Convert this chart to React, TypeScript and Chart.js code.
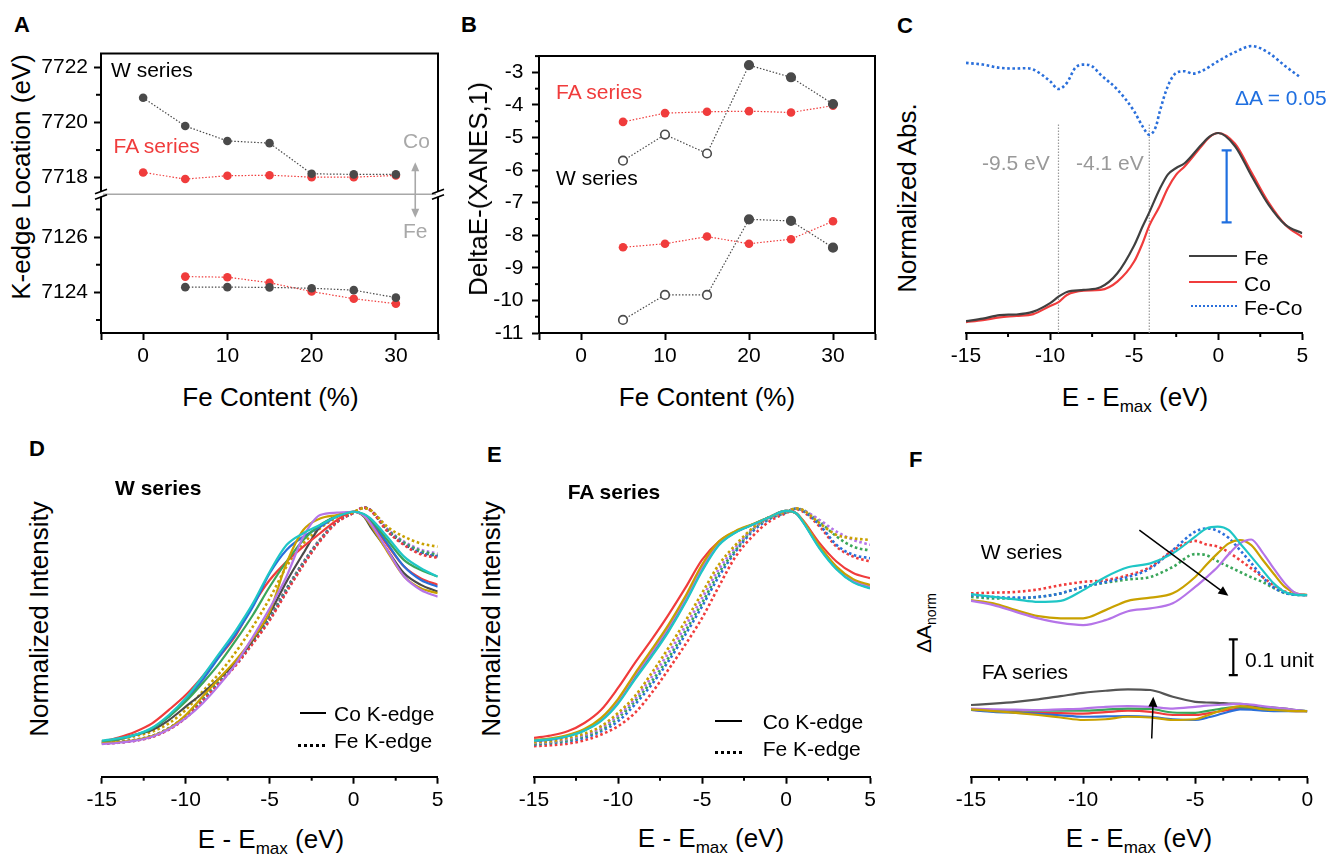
import React, { useEffect, useRef } from 'react';
import { Chart, registerables } from 'chart.js';
Chart.register(...registerables);

const FONT = "'Liberation Sans', Arial, Helvetica, sans-serif";
Chart.defaults.font.family = FONT;

// ---------- colours ----------
const K_GRAY = '#4a4a4a';
const K_RED = '#f03c3c';
const K_BLUE = '#2a6fdb';
const K_GREEN = '#3aa65a';
const K_PURPLE = '#b574e8';
const K_GOLD = '#c9a100';
const K_CYAN = '#1fc6c6';

// ---------- Panel A data (K-edge location, eV) ----------
const FE_CONTENT = [0, 5, 10, 15, 20, 25, 30];
const FE_CONTENT_DOPED = [5, 10, 15, 20, 25, 30];
const A_W_CO = [7720.89, 7719.87, 7719.33, 7719.25, 7718.14, 7718.12, 7718.12];
const A_FA_CO = [7718.19, 7717.95, 7718.07, 7718.09, 7718.02, 7718.02, 7718.08];
const A_W_FE = [7124.19, 7124.19, 7124.18, 7124.15, 7124.08, 7123.81];
const A_FA_FE = [7124.57, 7124.55, 7124.35, 7124.03, 7123.77, 7123.59];

// ---------- Panel B data (DeltaE-(XANES,1)) ----------
const B_W_UPPER = [-5.71, -4.91, -5.49, -2.78, -3.15, -3.97];
const B_FA_UPPER = [-4.52, -4.25, -4.21, -4.19, -4.23, -4.02];
const B_W_LOWER = [-10.6, -9.83, -9.83, -7.51, -7.56, -8.38];
const B_FA_LOWER = [-8.37, -8.26, -8.04, -8.26, -8.12, -7.57];
const B_W_OPEN = [true, true, true, false, false, false];

// ---------- Panel C data ----------
const C_E = [-15, -14, -13, -12, -11, -10, -9.5, -9, -8, -7, -6, -5, -4.5, -4.1, -3.5, -3, -2.5, -2, -1, -0.5, 0, 1, 2, 3, 4, 5];
const C_FE = [0.005, 0.018, 0.037, 0.04, 0.055, 0.1, 0.134, 0.159, 0.17, 0.184, 0.258, 0.405, 0.505, 0.58, 0.7, 0.78, 0.815, 0.84, 0.938, 0.982, 1.0, 0.93, 0.77, 0.62, 0.514, 0.47];
const C_CO = [0.0, 0.01, 0.025, 0.032, 0.042, 0.085, 0.105, 0.143, 0.166, 0.17, 0.214, 0.32, 0.417, 0.51, 0.61, 0.708, 0.78, 0.823, 0.93, 0.98, 1.0, 0.943, 0.788, 0.632, 0.514, 0.449];
const C_DIFF_E = [-15, -14, -13, -12, -11.5, -11, -10, -9.5, -9, -8.5, -8, -7.5, -7, -6, -5, -4.5, -4.1, -3.7, -3.5, -3, -2.5, -2, -1.5, -1, 0, 1, 2, 3, 4, 4.8];
const C_DIFF = [1.371, 1.362, 1.345, 1.341, 1.343, 1.336, 1.274, 1.233, 1.265, 1.345, 1.362, 1.353, 1.309, 1.23, 1.115, 1.035, 0.991, 1.035, 1.106, 1.247, 1.318, 1.327, 1.314, 1.327, 1.38, 1.428, 1.46, 1.424, 1.353, 1.3];
const C_MARK_E = [-9.5, -4.1];
const C_MARK_TOP = 1.05;
const C_ERRBAR = { x: 0.5, low: 0.527, high: 0.908 };

// ---------- Panels D / E data ----------
const DE_E = [-15, -14, -13, -12, -11, -10, -9, -8, -7, -6, -5, -4, -3, -2, -1, 0, 0.6, 1, 2, 3, 4, 5];
// D (W series) Co K-edge
const D_CO_RED = [0.006, 0.024, 0.049, 0.085, 0.143, 0.207, 0.287, 0.373, 0.467, 0.596, 0.704, 0.783, 0.848, 0.906, 0.963, 0.999, 0.985, 0.956, 0.855, 0.762, 0.711, 0.683];
const D_CO_BLUE = [0.006, 0.017, 0.035, 0.063, 0.114, 0.186, 0.272, 0.373, 0.474, 0.589, 0.733, 0.834, 0.891, 0.934, 0.978, 0.999, 0.985, 0.963, 0.862, 0.762, 0.704, 0.675];
const D_CO_CYAN = [0.01, 0.02, 0.035, 0.066, 0.121, 0.193, 0.287, 0.387, 0.488, 0.603, 0.74, 0.855, 0.906, 0.942, 0.978, 0.999, 0.989, 0.97, 0.891, 0.805, 0.755, 0.719];
const D_CO_GREEN = [0.006, 0.017, 0.035, 0.063, 0.114, 0.179, 0.258, 0.344, 0.445, 0.553, 0.675, 0.783, 0.877, 0.942, 0.978, 0.999, 0.988, 0.966, 0.877, 0.79, 0.747, 0.719];
const D_CO_GRAY = [0.006, 0.017, 0.035, 0.056, 0.099, 0.157, 0.215, 0.279, 0.351, 0.445, 0.56, 0.697, 0.819, 0.934, 0.981, 0.999, 0.978, 0.934, 0.834, 0.733, 0.683, 0.654];
const D_CO_GOLD = [0.0, 0.004, 0.013, 0.03, 0.063, 0.121, 0.2, 0.279, 0.359, 0.452, 0.567, 0.776, 0.92, 0.97, 0.985, 0.999, 0.981, 0.942, 0.827, 0.719, 0.668, 0.647];
const D_CO_PURPLE = [-0.004, 0.001, 0.01, 0.027, 0.059, 0.107, 0.171, 0.251, 0.344, 0.459, 0.582, 0.719, 0.891, 0.985, 0.995, 0.999, 0.982, 0.949, 0.834, 0.719, 0.661, 0.632];
// D (W series) Fe K-edge
const D_FE_RED = [-0.003, 0.002, 0.01, 0.026, 0.058, 0.108, 0.18, 0.258, 0.337, 0.43, 0.53, 0.652, 0.768, 0.872, 0.953, 0.994, 1.017, 1.005, 0.915, 0.855, 0.815, 0.8];
const D_FE_BLUE = [-0.002, 0.003, 0.011, 0.028, 0.06, 0.11, 0.182, 0.26, 0.34, 0.433, 0.534, 0.655, 0.771, 0.874, 0.954, 0.994, 1.017, 1.006, 0.918, 0.858, 0.82, 0.805];
const D_FE_GREEN = [-0.001, 0.004, 0.013, 0.03, 0.063, 0.114, 0.186, 0.265, 0.344, 0.438, 0.539, 0.661, 0.776, 0.877, 0.956, 0.995, 1.016, 1.006, 0.922, 0.866, 0.83, 0.812];
const D_FE_PURPLE = [-0.004, 0.001, 0.01, 0.027, 0.06, 0.112, 0.184, 0.263, 0.343, 0.437, 0.54, 0.663, 0.779, 0.879, 0.957, 0.995, 1.017, 1.007, 0.925, 0.87, 0.835, 0.818];
const D_FE_GRAY = [0.0, 0.005, 0.014, 0.031, 0.064, 0.116, 0.188, 0.268, 0.348, 0.443, 0.545, 0.667, 0.781, 0.88, 0.957, 0.995, 1.016, 1.005, 0.92, 0.86, 0.825, 0.808];
const D_FE_GOLD = [0.006, 0.016, 0.03, 0.049, 0.085, 0.143, 0.222, 0.301, 0.395, 0.503, 0.625, 0.762, 0.862, 0.927, 0.975, 0.999, 1.014, 1.006, 0.934, 0.891, 0.862, 0.848];
// E (FA series) Co K-edge
const E_CO_RED = [0.022, 0.032, 0.05, 0.086, 0.143, 0.237, 0.344, 0.445, 0.552, 0.667, 0.789, 0.868, 0.911, 0.94, 0.973, 1.0, 0.99, 0.961, 0.861, 0.782, 0.732, 0.71];
const E_CO_GOLD = [0.011, 0.02, 0.034, 0.06, 0.108, 0.189, 0.298, 0.402, 0.509, 0.631, 0.768, 0.868, 0.914, 0.943, 0.973, 1.0, 0.99, 0.958, 0.849, 0.76, 0.706, 0.681];
const E_CO_PURPLE = [0.01, 0.017, 0.032, 0.057, 0.103, 0.182, 0.29, 0.39, 0.498, 0.62, 0.756, 0.861, 0.911, 0.941, 0.973, 1.0, 0.99, 0.957, 0.846, 0.758, 0.7, 0.674];
const E_CO_GREEN = [0.01, 0.016, 0.03, 0.056, 0.1, 0.178, 0.286, 0.385, 0.492, 0.614, 0.752, 0.858, 0.91, 0.941, 0.973, 1.0, 0.99, 0.956, 0.844, 0.755, 0.697, 0.671];
const E_CO_BLUE = [0.009, 0.014, 0.029, 0.055, 0.098, 0.174, 0.28, 0.379, 0.486, 0.608, 0.746, 0.855, 0.908, 0.94, 0.973, 1.0, 0.99, 0.954, 0.841, 0.752, 0.694, 0.669];
const E_CO_CYAN = [0.01, 0.016, 0.029, 0.053, 0.095, 0.169, 0.273, 0.372, 0.479, 0.603, 0.74, 0.852, 0.907, 0.94, 0.973, 1.0, 0.99, 0.953, 0.838, 0.749, 0.692, 0.666];
// E (FA series) Fe K-edge
const E_FE_GOLD = [0.003, 0.007, 0.022, 0.04, 0.072, 0.129, 0.201, 0.301, 0.409, 0.524, 0.646, 0.768, 0.854, 0.925, 0.973, 0.997, 1.011, 1.004, 0.947, 0.897, 0.882, 0.875];
const E_FE_PURPLE = [0.0, 0.004, 0.017, 0.034, 0.065, 0.118, 0.189, 0.284, 0.387, 0.502, 0.624, 0.749, 0.844, 0.921, 0.971, 0.996, 1.011, 1.004, 0.961, 0.911, 0.875, 0.854];
const E_FE_GREEN = [-0.004, 0.001, 0.011, 0.029, 0.057, 0.108, 0.179, 0.265, 0.366, 0.481, 0.603, 0.732, 0.832, 0.918, 0.968, 0.994, 1.01, 1.004, 0.954, 0.89, 0.846, 0.829];
const E_FE_BLUE = [-0.007, -0.001, 0.007, 0.022, 0.05, 0.093, 0.165, 0.251, 0.352, 0.466, 0.588, 0.717, 0.825, 0.911, 0.964, 0.993, 1.01, 1.001, 0.94, 0.854, 0.811, 0.796];
const E_FE_RED = [-0.014, -0.01, -0.003, 0.011, 0.036, 0.072, 0.129, 0.215, 0.316, 0.423, 0.538, 0.674, 0.803, 0.89, 0.954, 0.99, 1.007, 0.997, 0.933, 0.846, 0.803, 0.782];

// ---------- Panel F data (difference spectra) ----------
const F_E = [-15, -14, -13, -12, -11, -10, -9, -8, -7, -6, -5, -4.5, -4, -3.5, -3, -2.5, -2, -1.5, -1, -0.5, 0];
const F_W_CYAN = [0.003, -0.005, -0.012, -0.019, -0.016, 0.014, 0.051, 0.078, 0.089, 0.117, 0.164, 0.187, 0.192, 0.182, 0.145, 0.108, 0.07, 0.033, 0.009, 0.001, 0];
const F_W_BLUE = [0, -0.005, -0.007, -0.005, 0.005, 0.023, 0.037, 0.051, 0.075, 0.126, 0.178, 0.187, 0.18, 0.16, 0.126, 0.09, 0.051, 0.022, 0.006, 0.001, 0];
const F_W_RED = [0.005, 0.007, 0.009, 0.016, 0.028, 0.037, 0.042, 0.056, 0.079, 0.125, 0.152, 0.142, 0.136, 0.12, 0.098, 0.075, 0.051, 0.028, 0.01, 0.002, 0];
const F_W_GREEN = [-0.005, -0.009, -0.009, -0.005, 0.005, 0.023, 0.035, 0.044, 0.051, 0.079, 0.115, 0.112, 0.095, 0.08, 0.065, 0.05, 0.037, 0.02, 0.006, 0.001, 0];
const F_W_GOLD = [-0.014, -0.023, -0.042, -0.059, -0.065, -0.065, -0.042, -0.016, -0.007, 0.005, 0.051, 0.085, 0.117, 0.145, 0.154, 0.14, 0.1, 0.06, 0.023, 0.005, 0];
const F_W_PURPLE = [-0.016, -0.028, -0.047, -0.065, -0.078, -0.084, -0.07, -0.045, -0.037, -0.023, 0.023, 0.05, 0.079, 0.115, 0.145, 0.156, 0.12, 0.075, 0.033, 0.005, 0];
const F_FA_GRAY = [0.017, 0.021, 0.026, 0.033, 0.042, 0.051, 0.057, 0.061, 0.059, 0.04, 0.026, 0.024, 0.023, 0.021, 0.02, 0.016, 0.012, 0.01, 0.007, 0.003, 0];
const F_FA_PURPLE = [0.007, 0.005, 0.004, 0.003, 0.005, 0.007, 0.012, 0.014, 0.012, 0.007, 0.012, 0.015, 0.017, 0.019, 0.02, 0.018, 0.014, 0.01, 0.007, 0.003, 0];
const F_FA_GREEN = [0.005, 0.003, 0.002, 0.001, 0.001, 0.001, 0.004, 0.007, 0.006, -0.004, -0.005, 0, 0.005, 0.01, 0.012, 0.01, 0.007, 0.005, 0.003, 0.001, 0];
const F_FA_RED = [0.003, 0, -0.003, -0.005, -0.006, -0.007, -0.003, 0.001, -0.002, -0.011, -0.011, -0.007, -0.002, 0.003, 0.007, 0.006, 0.005, 0.003, 0.001, 0, 0];
const F_FA_BLUE = [0.003, -0.002, -0.005, -0.008, -0.012, -0.016, -0.015, -0.014, -0.016, -0.023, -0.025, -0.019, -0.011, -0.002, 0.005, 0.004, 0.001, 0, 0, 0, 0];
const F_FA_GOLD = [0.005, 0, -0.005, -0.011, -0.018, -0.025, -0.023, -0.016, -0.018, -0.025, -0.023, -0.013, -0.002, 0.008, 0.014, 0.011, 0.005, 0.003, 0.001, 0, 0];
const F_W_OFFSET = 0.509;
const F_FA_OFFSET = 0.184;
const F_SCALEBAR = { x: -3.3, y0: 0.285, len: 0.1 };
const F_ARROWS = [
  { x0: -7.49, y0: F_W_OFFSET + 0.182, x1: -3.52, y1: F_W_OFFSET - 0.002 },
  { x0: -6.94, y0: F_FA_OFFSET - 0.077, x1: -6.87, y1: F_FA_OFFSET + 0.04 },
];

// ---------- helpers ----------
const AXB = 40;
const TICK_FONT = { family: FONT, size: 21 };
const TRANSPARENT = 'rgba(0,0,0,0)';
const isMult = (v: number, m: number) => Math.abs(v / m - Math.round(v / m)) < 1e-6;

function xAxis(min: number, max: number, step: number, label: (v: number) => string, showTick: (v: number) => boolean) {
  return {
    type: 'linear', position: 'bottom', min, max,
    afterFit: (s: any) => { s.height = AXB; },
    grid: {
      drawOnChartArea: false, drawTicks: true, tickLength: 7, tickWidth: 2,
      tickColor: (c: any) => (c.tick && !showTick(c.tick.value) ? TRANSPARENT : '#000'),
    },
    border: { display: true, color: '#000', width: 2 },
    ticks: {
      stepSize: step, autoSkip: false, maxRotation: 0, minRotation: 0, padding: 4,
      color: '#000', font: TICK_FONT, callback: (v: any) => label(Number(v)),
    },
  };
}

function yAxis(min: number, max: number, step: number, width: number, pad: number, label: (v: number) => string, major: (v: number) => boolean, extra: any = {}) {
  return {
    type: 'linear', position: 'left', min, max,
    afterFit: (s: any) => { s.width = width; },
    grid: {
      drawOnChartArea: false, drawTicks: true, tickLength: 7, tickWidth: 2,
      tickColor: (c: any) => (c.tick && !major(c.tick.value) ? TRANSPARENT : '#000'),
    },
    border: { display: true, color: '#000', width: 2 },
    ticks: {
      stepSize: step, autoSkip: false, padding: pad, includeBounds: false,
      color: '#000', font: TICK_FONT, callback: (v: any) => label(Number(v)),
    },
    ...extra,
  };
}

function minorTicks(id: string, axes: string[], isMinor: (v: number) => boolean, len = 4) {
  return {
    id,
    afterDraw(chart: any) {
      const ctx = chart.ctx;
      ctx.save();
      ctx.strokeStyle = '#000';
      ctx.lineWidth = 2;
      axes.forEach((a) => {
        const s = chart.scales[a];
        s.ticks.forEach((t: any) => {
          if (!isMinor(t.value)) return;
          const p = s.getPixelForValue(t.value);
          ctx.beginPath();
          if (s.isHorizontal()) { ctx.moveTo(p, s.top); ctx.lineTo(p, s.top + len); }
          else { ctx.moveTo(s.right, p); ctx.lineTo(s.right - len, p); }
          ctx.stroke();
        });
      });
      ctx.restore();
    },
  };
}

const framePlugin = {
  id: 'frame',
  afterDraw(chart: any) {
    const { ctx, chartArea: ca } = chart;
    ctx.save();
    ctx.strokeStyle = '#000';
    ctx.lineWidth = 2;
    ctx.beginPath();
    ctx.moveTo(ca.left - 1, ca.top);
    ctx.lineTo(ca.right, ca.top);
    ctx.lineTo(ca.right, ca.bottom + 1);
    ctx.stroke();
    ctx.restore();
  },
};

function drawArrow(ctx: any, x0: number, y0: number, x1: number, y1: number, color: string, lw = 1.5, head = 10, half = 4) {
  const ang = Math.atan2(y1 - y0, x1 - x0);
  ctx.save();
  ctx.strokeStyle = color;
  ctx.fillStyle = color;
  ctx.lineWidth = lw;
  ctx.beginPath();
  ctx.moveTo(x0, y0);
  ctx.lineTo(x1 - Math.cos(ang) * head * 0.6, y1 - Math.sin(ang) * head * 0.6);
  ctx.stroke();
  ctx.beginPath();
  ctx.moveTo(x1, y1);
  ctx.lineTo(x1 - Math.cos(ang) * head + Math.sin(ang) * half, y1 - Math.sin(ang) * head - Math.cos(ang) * half);
  ctx.lineTo(x1 - Math.cos(ang) * head - Math.sin(ang) * half, y1 - Math.sin(ang) * head + Math.cos(ang) * half);
  ctx.closePath();
  ctx.fill();
  ctx.restore();
}

const baseOptions = (padding: any) => ({
  animation: false,
  responsive: false,
  devicePixelRatio: 1,
  events: [],
  layout: { padding },
  plugins: { legend: { display: false }, tooltip: { enabled: false } },
});

const pts = (xs: number[], ys: number[], off = 0) => xs.map((x, i) => ({ x, y: ys[i] + off }));

const curve = (xs: number[], ys: number[], color: string, dotted: boolean, off = 0, width?: number) => ({
  data: pts(xs, ys, off),
  borderColor: color,
  backgroundColor: color,
  borderWidth: width ?? (dotted ? 2.6 : 2.2),
  borderDash: dotted ? [2.6, 2.6] : [],
  pointRadius: 0,
  cubicInterpolationMode: 'monotone',
  fill: false,
});

const markerSeries = (xs: number[], ys: number[], color: string, yAxisID: string, open?: boolean[]) => ({
  data: pts(xs, ys),
  yAxisID,
  borderColor: color,
  backgroundColor: color,
  borderWidth: 1.2,
  borderDash: [1.5, 1.8],
  pointRadius: 4.3,
  pointBorderWidth: open ? 1.6 : 0,
  pointBorderColor: color,
  pointBackgroundColor: open ? open.map((o) => (o ? '#fff' : color)) : color,
  tension: 0,
});

type Pad = { l: number; r: number; t: number; axL: number };

function ChartBox({ area, pad, make }: { area: number[]; pad: Pad; make: (padding: any) => any }) {
  const ref = useRef<HTMLCanvasElement>(null);
  const [x0, y0, x1, y1] = area;
  const left = Math.floor(x0 - pad.axL - pad.l);
  const top = Math.floor(y0 - pad.t);
  const width = Math.ceil(x1 + pad.r - left);
  const height = Math.ceil(y1 + AXB - top);
  const padding = { left: x0 - pad.axL - left, top: y0 - top, right: width - (x1 - left), bottom: height - AXB - (y1 - top) };
  useEffect(() => {
    const chart = new Chart(ref.current as HTMLCanvasElement, make(padding));
    return () => chart.destroy();
  }, []);
  return <canvas ref={ref} width={width} height={height} style={{ position: 'absolute', left, top, width, height }} />;
}

function Txt({ x, cy, size = 21, color = '#000', bold = false, center = false, children }: any) {
  return (
    <div style={{ position: 'absolute', left: x, top: cy - size / 2, fontSize: size, lineHeight: 1, fontFamily: FONT, fontWeight: bold ? 'bold' : 'normal', color, whiteSpace: 'nowrap', transform: center ? 'translateX(-50%)' : undefined }}>
      {children}
    </div>
  );
}

function VTxt({ cx, cy, size = 26, children }: any) {
  return (
    <div style={{ position: 'absolute', left: cx, top: cy, fontSize: size, lineHeight: 1, fontFamily: FONT, color: '#000', whiteSpace: 'nowrap', transform: 'translate(-50%,-50%) rotate(-90deg)' }}>
      {children}
    </div>
  );
}

function LineSample({ x0, x1, y, color, width = 2.5, dotted = false }: any) {
  return <div style={{ position: 'absolute', left: x0, top: y - width / 2, width: x1 - x0, height: 0, borderTop: `${width}px ${dotted ? 'dotted' : 'solid'} ${color}` }} />;
}

const EMax = () => (
  <span>E - E<span style={{ fontSize: 17, position: 'relative', top: 6 }}>max</span> (eV)</span>
);

// ---------- chart configs ----------
const xFeAxis = () => xAxis(-5, 35, 5, (v) => (isMult(v, 10) && v >= 0 && v <= 30 ? String(v) : ''), (v) => !(v > 0 && v < 35 && !isMult(v, 10)));

const makeA = (padding: any) => ({
  type: 'line',
  data: {
    datasets: [
      markerSeries(FE_CONTENT, A_W_CO, K_GRAY, 'yHigh'),
      markerSeries(FE_CONTENT, A_FA_CO, K_RED, 'yHigh'),
      markerSeries(FE_CONTENT_DOPED, A_W_FE, K_GRAY, 'yLow'),
      markerSeries(FE_CONTENT_DOPED, A_FA_FE, K_RED, 'yLow'),
    ],
  },
  options: {
    ...baseOptions(padding),
    scales: {
      x: xFeAxis(),
      yLow: yAxis(7122.53, 7127.55, 1, 60, 6, (v) => (isMult(v, 2) ? String(v) : ''), (v) => isMult(v, 2), { stack: 'kedge', stackWeight: 143 }),
      yHigh: yAxis(7717.4, 7722.49, 1, 60, 6, (v) => (isMult(v, 2) ? String(v) : ''), (v) => isMult(v, 2), { stack: 'kedge', stackWeight: 145 }),
    },
  },
  plugins: [
    framePlugin,
    minorTicks('minA', ['yLow', 'yHigh'], (v) => !isMult(v, 2), 5),
    {
      id: 'breakA',
      afterDraw(chart: any) {
        const { ctx, chartArea: ca, scales } = chart;
        const yb = scales.yHigh.bottom;
        ctx.save();
        ctx.strokeStyle = '#a8a8a8';
        ctx.lineWidth = 1.3;
        ctx.beginPath();
        ctx.moveTo(ca.left, yb);
        ctx.lineTo(ca.right, yb);
        ctx.stroke();
        [ca.left, ca.right].forEach((x) => {
          ctx.fillStyle = '#fff';
          ctx.fillRect(x - 2, yb - 2.5, 4, 5);
          ctx.strokeStyle = '#000';
          ctx.lineWidth = 1.8;
          ctx.beginPath();
          ctx.moveTo(x - 6, yb - 0.5);
          ctx.lineTo(x + 6, yb - 5);
          ctx.moveTo(x - 6, yb + 5);
          ctx.lineTo(x + 6, yb + 0.5);
          ctx.stroke();
        });
        const ax = scales.x.getPixelForValue(32.3);
        const yTop = scales.yHigh.getPixelForValue(7718.56);
        const yBot = scales.yLow.getPixelForValue(7126.7);
        drawArrow(ctx, ax, yb, ax, yTop, '#a8a8a8', 1.6, 9, 4);
        drawArrow(ctx, ax, yb, ax, yBot, '#a8a8a8', 1.6, 9, 4);
        ctx.restore();
      },
    },
  ],
});

const makeB = (padding: any) => ({
  type: 'line',
  data: {
    datasets: [
      markerSeries(FE_CONTENT_DOPED, B_W_UPPER, K_GRAY, 'y', B_W_OPEN),
      markerSeries(FE_CONTENT_DOPED, B_FA_UPPER, K_RED, 'y'),
      markerSeries(FE_CONTENT_DOPED, B_W_LOWER, K_GRAY, 'y', B_W_OPEN),
      markerSeries(FE_CONTENT_DOPED, B_FA_LOWER, K_RED, 'y'),
    ],
  },
  options: {
    ...baseOptions(padding),
    scales: {
      x: xFeAxis(),
      y: { ...yAxis(-11, -2.5, 0.5, 60, 8.5, (v) => (isMult(v, 1) ? String(v) : ''), (v) => isMult(v, 1)) },
    },
  },
  plugins: [framePlugin, minorTicks('minB', ['y'], (v) => !isMult(v, 1), 4)],
});

const xEAxis = (min: number, max: number, step: number) =>
  xAxis(min, max, step, (v) => (isMult(v, 5) ? String(v) : ''), (v) => isMult(v, 5));

const C_YMIN = -0.058, C_YMAX = 1.5;
const makeC = (padding: any) => ({
  type: 'line',
  data: {
    datasets: [
      curve(C_E, C_FE, '#404040', false),
      curve(C_E, C_CO, K_RED, false),
      curve(C_DIFF_E, C_DIFF, K_BLUE, true, 0, 2.6),
      ...C_MARK_E.map((e) => ({
        data: [{ x: e, y: C_YMIN }, { x: e, y: C_MARK_TOP }],
        borderColor: '#9a9a9a', borderWidth: 1.2, borderDash: [1.5, 1.5], pointRadius: 0,
      })),
      {
        data: [{ x: C_ERRBAR.x, y: C_ERRBAR.low }, { x: C_ERRBAR.x, y: C_ERRBAR.high }],
        borderColor: '#1f6fe0', borderWidth: 2.2, pointStyle: 'line', pointRadius: 5,
        pointBorderWidth: 2.2, pointBorderColor: '#1f6fe0',
      },
    ],
  },
  options: {
    ...baseOptions(padding),
    scales: { x: xEAxis(-15, 5, 2.5), y: { type: 'linear', display: false, min: C_YMIN, max: C_YMAX } },
  },
  plugins: [minorTicks('minC', ['x'], (v) => !isMult(v, 5), 4)],
});

const DE_YMIN = -0.1456, DE_YMAX = 1.1;
const makeD = (padding: any) => ({
  type: 'line',
  data: {
    datasets: [
      curve(DE_E, D_FE_GRAY, K_GRAY, true),
      curve(DE_E, D_FE_PURPLE, K_PURPLE, true),
      curve(DE_E, D_FE_GREEN, K_GREEN, true),
      curve(DE_E, D_FE_BLUE, K_BLUE, true),
      curve(DE_E, D_FE_RED, K_RED, true),
      curve(DE_E, D_FE_GOLD, K_GOLD, true),
      curve(DE_E, D_CO_GRAY, K_GRAY, false),
      curve(DE_E, D_CO_RED, K_RED, false),
      curve(DE_E, D_CO_BLUE, K_BLUE, false),
      curve(DE_E, D_CO_GREEN, K_GREEN, false),
      curve(DE_E, D_CO_GOLD, K_GOLD, false),
      curve(DE_E, D_CO_PURPLE, K_PURPLE, false),
      curve(DE_E, D_CO_CYAN, K_CYAN, false),
    ].reverse(),
  },
  options: {
    ...baseOptions(padding),
    scales: { x: xEAxis(-15, 5, 2.5), y: { type: 'linear', display: false, min: DE_YMIN, max: DE_YMAX } },
  },
  plugins: [minorTicks('minD', ['x'], (v) => !isMult(v, 5), 4)],
});

const makeE = (padding: any) => ({
  type: 'line',
  data: {
    datasets: [
      curve(DE_E, E_FE_RED, K_RED, true),
      curve(DE_E, E_FE_BLUE, K_BLUE, true),
      curve(DE_E, E_FE_GREEN, K_GREEN, true),
      curve(DE_E, E_FE_PURPLE, K_PURPLE, true),
      curve(DE_E, E_FE_GOLD, K_GOLD, true),
      curve(DE_E, E_CO_RED, K_RED, false),
      curve(DE_E, E_CO_BLUE, K_BLUE, false),
      curve(DE_E, E_CO_GREEN, K_GREEN, false),
      curve(DE_E, E_CO_PURPLE, K_PURPLE, false),
      curve(DE_E, E_CO_GOLD, K_GOLD, false),
      curve(DE_E, E_CO_CYAN, K_CYAN, false),
    ].reverse(),
  },
  options: {
    ...baseOptions(padding),
    scales: { x: xEAxis(-15, 5, 2.5), y: { type: 'linear', display: false, min: DE_YMIN, max: DE_YMAX } },
  },
  plugins: [minorTicks('minE', ['x'], (v) => !isMult(v, 5), 4)],
});

const F_YMIN = 0, F_YMAX = 0.85;
const makeF = (padding: any) => ({
  type: 'line',
  data: {
    datasets: [
      curve(F_E, F_W_GREEN, K_GREEN, true, F_W_OFFSET),
      curve(F_E, F_W_RED, K_RED, true, F_W_OFFSET),
      curve(F_E, F_W_BLUE, K_BLUE, true, F_W_OFFSET),
      curve(F_E, F_W_GOLD, K_GOLD, false, F_W_OFFSET),
      curve(F_E, F_W_PURPLE, K_PURPLE, false, F_W_OFFSET),
      curve(F_E, F_W_CYAN, K_CYAN, false, F_W_OFFSET),
      curve(F_E, F_FA_GRAY, '#555', false, F_FA_OFFSET),
      curve(F_E, F_FA_RED, K_RED, false, F_FA_OFFSET),
      curve(F_E, F_FA_BLUE, K_BLUE, false, F_FA_OFFSET),
      curve(F_E, F_FA_GREEN, K_GREEN, false, F_FA_OFFSET),
      curve(F_E, F_FA_PURPLE, K_PURPLE, false, F_FA_OFFSET),
      curve(F_E, F_FA_GOLD, K_GOLD, false, F_FA_OFFSET),
      {
        data: [{ x: F_SCALEBAR.x, y: F_SCALEBAR.y0 }, { x: F_SCALEBAR.x, y: F_SCALEBAR.y0 + F_SCALEBAR.len }],
        borderColor: '#000', borderWidth: 2.2, pointStyle: 'line', pointRadius: 4.5,
        pointBorderWidth: 2.2, pointBorderColor: '#000',
      },
    ].reverse(),
  },
  options: {
    ...baseOptions(padding),
    scales: { x: xEAxis(-15, 0, 1.25), y: { type: 'linear', display: false, min: F_YMIN, max: F_YMAX } },
  },
  plugins: [
    minorTicks('minF', ['x'], (v) => !isMult(v, 5), 4),
    {
      id: 'arrowsF',
      afterDatasetsDraw(chart: any) {
        const { ctx, scales } = chart;
        F_ARROWS.forEach((a) => {
          drawArrow(ctx, scales.x.getPixelForValue(a.x0), scales.y.getPixelForValue(a.y0),
            scales.x.getPixelForValue(a.x1), scales.y.getPixelForValue(a.y1), '#000', 1.5, 10, 4.5);
        });
      },
    },
  ],
});

// ---------- layout ----------
const PAD_BOX: Pad = { l: 0, r: 10, t: 10, axL: 60 };
const PAD_FREE: Pad = { l: 25, r: 15, t: 10, axL: 0 };

export default function App() {
  return (
    <div style={{ position: 'fixed', left: 0, top: 0, width: 1331, height: 857, background: '#fff', overflow: 'hidden', fontFamily: FONT }}>
      <ChartBox area={[101, 45, 438, 333]} pad={PAD_BOX} make={makeA} />
      <ChartBox area={[539, 45, 875, 333]} pad={PAD_BOX} make={makeB} />
      <ChartBox area={[966, 322 - C_YMAX * 189, 1302.3, 333]} pad={PAD_FREE} make={makeC} />
      <ChartBox area={[101.7, 776.7 - (DE_YMAX - DE_YMIN) * 231.5, 437.7, 776.7]} pad={PAD_FREE} make={makeD} />
      <ChartBox area={[534, 776.7 - (DE_YMAX - DE_YMIN) * 232, 870, 776.7]} pad={PAD_FREE} make={makeE} />
      <ChartBox area={[971, 776.7 - (F_YMAX - F_YMIN) * 356.7, 1307.3, 776.7]} pad={PAD_FREE} make={makeF} />

      {/* panel letters */}
      <Txt x={14} cy={24.5} size={22} bold>A</Txt>
      <Txt x={461} cy={25} size={22} bold>B</Txt>
      <Txt x={897} cy={26} size={22} bold>C</Txt>
      <Txt x={29} cy={449} size={22} bold>D</Txt>
      <Txt x={487} cy={455} size={22} bold>E</Txt>
      <Txt x={909} cy={460} size={22} bold>F</Txt>

      {/* axis titles */}
      <Txt x={270.5} cy={397} size={26} center>Fe Content (%)</Txt>
      <VTxt cx={21.3} cy={177}>K-edge Location (eV)</VTxt>
      <Txt x={707} cy={397} size={26} center>Fe Content (%)</Txt>
      <VTxt cx={478.3} cy={189}>DeltaE-(XANES,1)</VTxt>
      <Txt x={1135} cy={397} size={26} center><EMax /></Txt>
      <VTxt cx={907.3} cy={197.5}>Normalized Abs.</VTxt>
      <Txt x={271} cy={839} size={26} center><EMax /></Txt>
      <VTxt cx={39.3} cy={619}>Normalized Intensity</VTxt>
      <Txt x={711} cy={838} size={26} center><EMax /></Txt>
      <VTxt cx={491.3} cy={619}>Normalized Intensity</VTxt>
      <Txt x={1139} cy={838} size={26} center><EMax /></Txt>
      <VTxt cx={922.5} cy={622.5} size={21}>ΔA<span style={{ fontSize: 14, position: 'relative', top: 5 }}>norm</span></VTxt>

      {/* panel A annotations */}
      <Txt x={111} cy={69}>W series</Txt>
      <Txt x={113.5} cy={145.5} color={K_RED}>FA series</Txt>
      <Txt x={403} cy={140} color="#a8a8a8">Co</Txt>
      <Txt x={403} cy={230} color="#a8a8a8">Fe</Txt>

      {/* panel B annotations */}
      <Txt x={556} cy={91} color={K_RED}>FA series</Txt>
      <Txt x={556} cy={177}>W series</Txt>

      {/* panel C annotations */}
      <Txt x={1235} cy={97.5} color="#1f6fe0">ΔA = 0.05</Txt>
      <Txt x={982} cy={162} color="#999">-9.5 eV</Txt>
      <Txt x={1076} cy={162} color="#999">-4.1 eV</Txt>
      <LineSample x0={1189} x1={1237} y={256.7} color="#404040" />
      <Txt x={1244} cy={257}>Fe</Txt>
      <LineSample x0={1189} x1={1237} y={282.7} color={K_RED} />
      <Txt x={1244} cy={283}>Co</Txt>
      <LineSample x0={1191} x1={1237} y={306.7} color={K_BLUE} dotted />
      <Txt x={1244} cy={307}>Fe-Co</Txt>

      {/* panel D annotations */}
      <Txt x={115} cy={487.5} bold>W series</Txt>
      <LineSample x0={300} x1={326} y={713.3} color="#000" />
      <Txt x={334} cy={713}>Co K-edge</Txt>
      <LineSample x0={298} x1={325} y={745} color="#000" width={3} dotted />
      <Txt x={334} cy={740}>Fe K-edge</Txt>

      {/* panel E annotations */}
      <Txt x={567.7} cy={491} bold>FA series</Txt>
      <LineSample x0={715} x1={742} y={721} color="#000" />
      <Txt x={762.7} cy={721}>Co K-edge</Txt>
      <LineSample x0={715} x1={742} y={752.7} color="#000" width={3} dotted />
      <Txt x={762.7} cy={748}>Fe K-edge</Txt>

      {/* panel F annotations */}
      <Txt x={980.7} cy={551}>W series</Txt>
      <Txt x={981.7} cy={671}>FA series</Txt>
      <Txt x={1245} cy={659}>0.1 unit</Txt>
    </div>
  );
}
